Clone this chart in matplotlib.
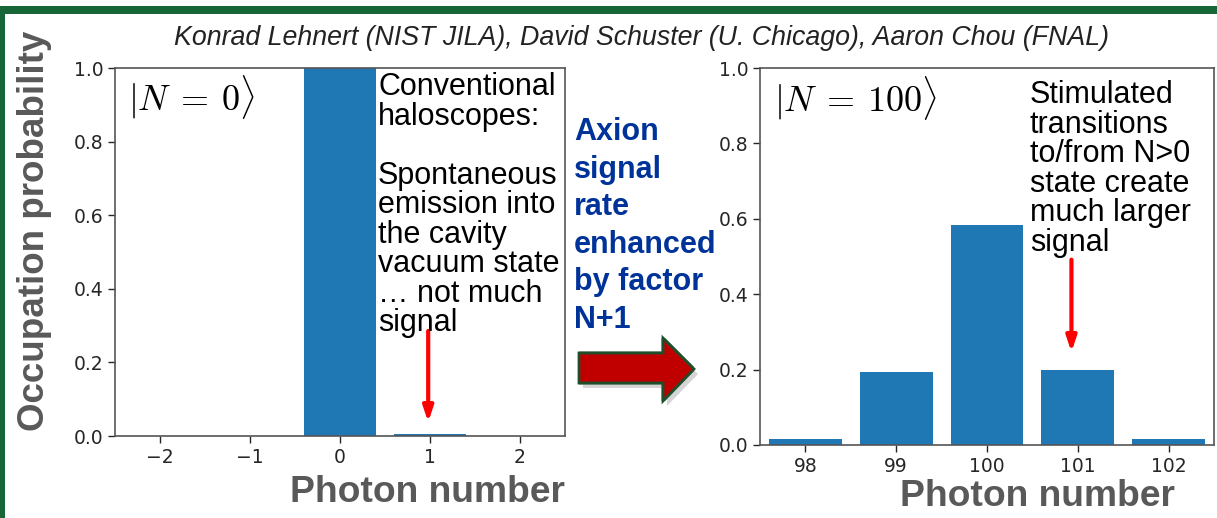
import matplotlib
matplotlib.use("Agg")
import matplotlib.pyplot as plt
import numpy as np
from matplotlib.patches import Polygon, Rectangle
from matplotlib.colors import LinearSegmentedColormap

# ---- data ----
photon_left = [-2, -1, 0, 1, 2]
prob_left = [0.0, 0.0, 1.0, 0.005, 0.0]
photon_right = [98, 99, 100, 101, 102]
prob_right = [0.015, 0.194, 0.584, 0.198, 0.015]
yticks = [0.0, 0.2, 0.4, 0.6, 0.8, 1.0]

title = "Konrad Lehnert (NIST JILA), David Schuster (U. Chicago), Aaron Chou (FNAL)"
left_note = "Conventional\nhaloscopes:\n\nSpontaneous\nemission into\nthe cavity\nvacuum state\n\u2026 not much\nsignal"
right_note = "Stimulated\ntransitions\nto/from N>0\nstate create\nmuch larger\nsignal"
mid_note = "Axion\nsignal\nrate\nenhanced\nby factor\nN+1"

W, H = 1217, 518
fig = plt.figure(figsize=(W / 100, H / 100), dpi=100)
plt.rcParams['mathtext.fontset'] = 'cm'

def fx(x):
    return x / W

def fy(y):
    return 1 - y / H

BAR = '#1f77b4'
SPINE = '#555555'
TICKC = '#262626'

axL = fig.add_axes([fx(115), fy(436), fx(565) - fx(115), fy(68) - fy(436)])
axR = fig.add_axes([fx(760), fy(445), fx(1214) - fx(760), fy(68) - fy(445)])

for ax, xs, ys, xl in [(axL, photon_left, prob_left, (-2.5, 2.5)),
                       (axR, photon_right, prob_right, (97.5, 102.5))]:
    ax.bar(xs, ys, width=0.8, color=BAR)
    ax.set_xlim(*xl)
    ax.set_ylim(0, 1.0)
    ax.set_xticks(xs)
    ax.set_yticks(yticks)
    ax.set_yticklabels([f"{v:.1f}" for v in yticks])
    ax.tick_params(labelsize=13.5, colors=TICKC, length=5, width=1)
    for s in ax.spines.values():
        s.set_color(SPINE)
        s.set_linewidth(1.2)

axL.set_xticklabels(["\u22122", "\u22121", "0", "1", "2"])

# state labels
axL.text(0.03, 0.92, r'$|N\:=\:0\rangle$', transform=axL.transAxes, fontsize=26,
         va='center', ha='left', color='black')
axR.text(0.03, 0.92, r'$|N\:=\:100\rangle$', transform=axR.transAxes, fontsize=26,
         va='center', ha='left', color='black')

# annotations
sans = 'Liberation Sans'
fig.text(fx(378), fy(72), left_note, family=sans, fontsize=22, va='top', ha='left',
         linespacing=0.98, color='black')
fig.text(fx(1030), fy(80), right_note, family=sans, fontsize=22, va='top', ha='left',
         linespacing=0.98, color='black')
fig.text(fx(574), fy(117), mid_note, family=sans, fontsize=22, fontweight='bold',
         va='top', ha='left', linespacing=1.33, color='#003399')

axL.annotate('', xy=(0.98, 0.03), xytext=(0.98, 0.293),
             arrowprops=dict(arrowstyle='-|>,head_width=0.3,head_length=0.9', color='red', lw=3))
axR.annotate('', xy=(100.93, 0.239), xytext=(100.93, 0.499),
             arrowprops=dict(arrowstyle='-|>,head_width=0.3,head_length=0.9', color='red', lw=3))

# title
fig.text(fx(641), fy(38), title, family=sans, style='italic', fontsize=19.3, ha='center',
         va='center', color='#222222')

# axis labels
LBL = '#595959'
fig.text(fx(35), fy(231), 'Occupation probability', family=sans, fontweight='bold',
         fontsize=26.5, rotation=90, ha='center', va='center', color=LBL)
fig.text(fx(427), fy(492), 'Photon number', family=sans, fontweight='bold',
         fontsize=26.8, ha='center', va='center', color=LBL)
fig.text(fx(1037), fy(497), 'Photon number', family=sans, fontweight='bold',
         fontsize=26.8, ha='center', va='center', color=LBL)

# big arrow
pts_px = [(579, 353), (663, 353), (663, 338), (694, 369), (663, 401), (663, 383), (579, 383)]
shadow = Polygon([(fx(x + 4), fy(y + 5)) for x, y in pts_px], closed=True,
                 transform=fig.transFigure, facecolor='#888888', alpha=0.35, edgecolor='none')
fig.patches.append(shadow)
arrow = Polygon([(fx(x), fy(y)) for x, y in pts_px], closed=True, transform=fig.transFigure,
                facecolor='#c00000', edgecolor='#1f4f2a', lw=2)
fig.patches.append(arrow)
grad = np.linspace(0, 1, 64).reshape(-1, 1)
gax = fig.add_axes([fx(579), fy(401), fx(694) - fx(579), fy(338) - fy(401)])
gax.axis('off')
cmap = LinearSegmentedColormap.from_list('r', ['#c00000', '#b80000', '#d9534f'])
im = gax.imshow(grad, aspect='auto', cmap=cmap, extent=[0, 1, 0, 1], origin='upper')
im.set_clip_path(arrow)
gax.set_xlim(0, 1); gax.set_ylim(0, 1)
gax.add_patch(Polygon([(fx(x), fy(y)) for x, y in pts_px], closed=True, transform=fig.transFigure,
                      facecolor='none', edgecolor='#1f4f2a', lw=2))

# green frame
fig.patches.append(Rectangle((0, fy(14)), 1, fy(6) - fy(14), transform=fig.transFigure,
                             facecolor='#166637', edgecolor='none'))
fig.patches.append(Rectangle((0, 0), fx(5), fy(6), transform=fig.transFigure,
                             facecolor='#166637', edgecolor='none'))

fig.savefig('out.png', dpi=100)
